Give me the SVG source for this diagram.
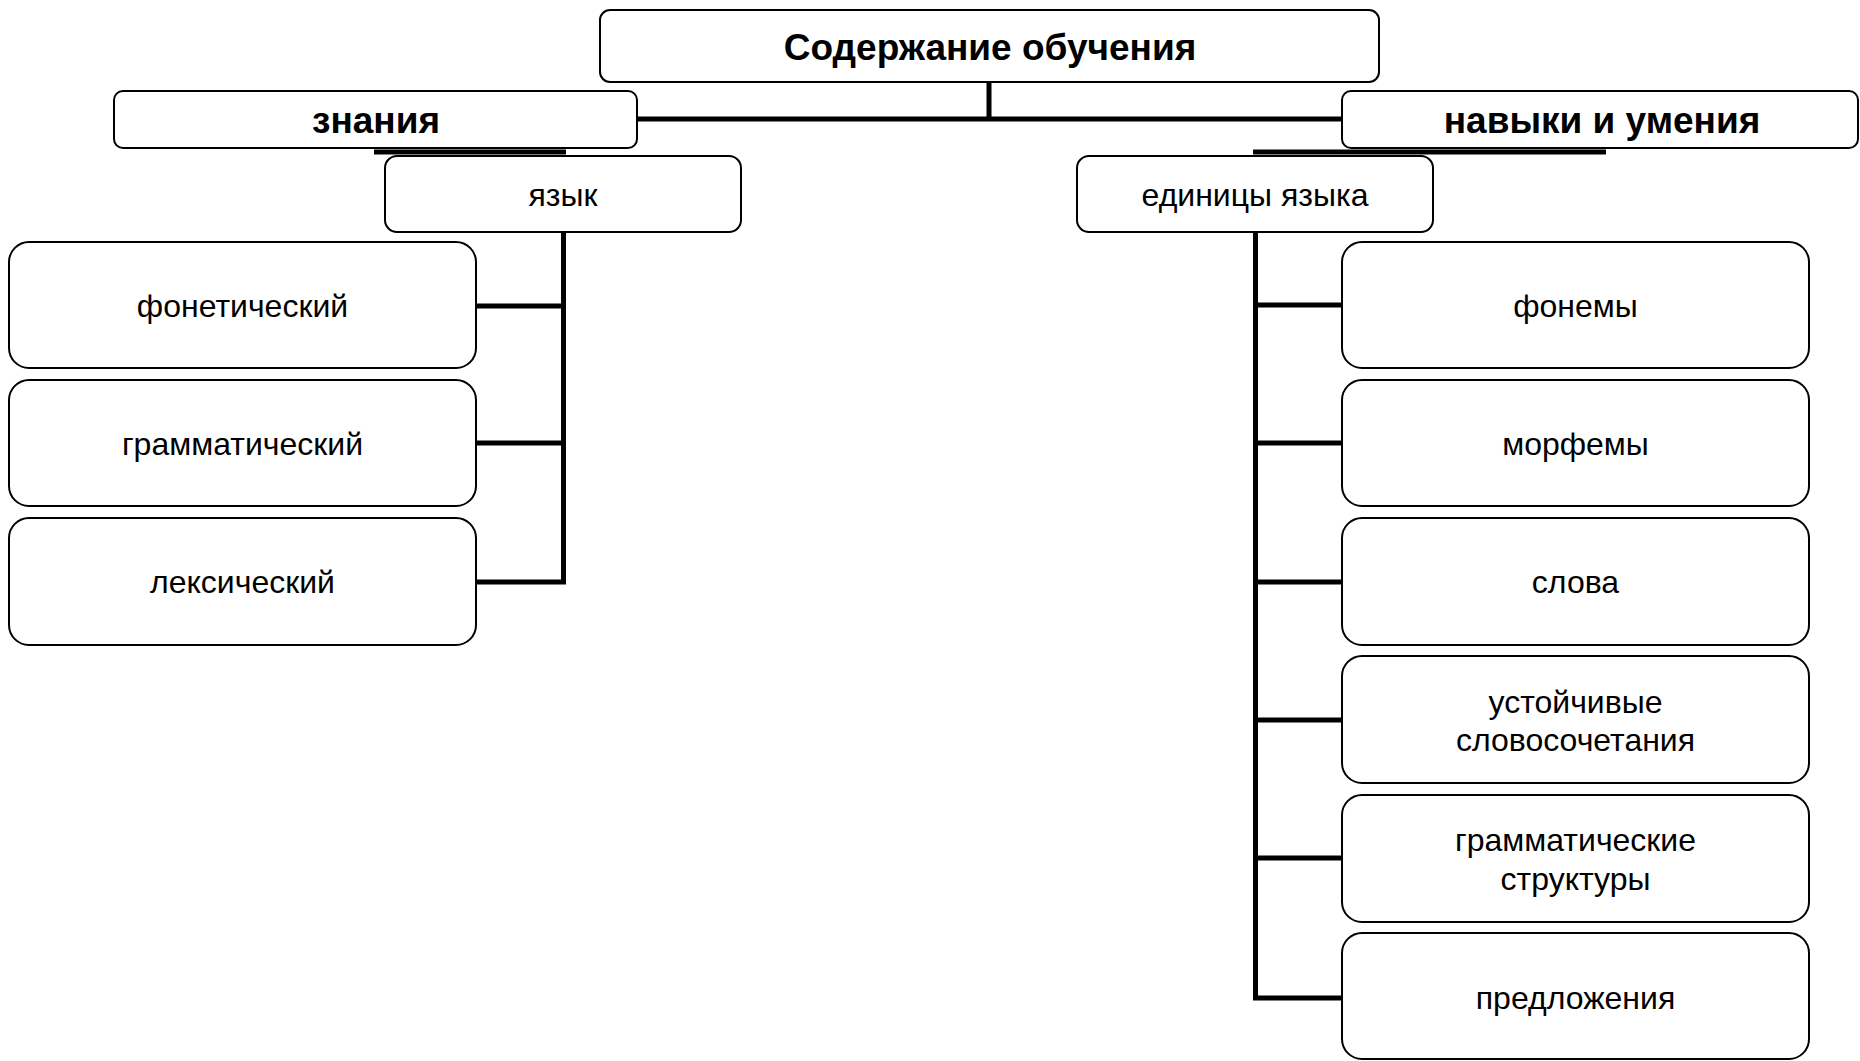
<svg xmlns="http://www.w3.org/2000/svg" width="1860" height="1061" viewBox="0 0 1860 1061">
<style>
.box{fill:#fff;stroke:#000;stroke-width:2}
.t{font-family:"Liberation Sans",Arial,sans-serif;font-size:32px;fill:#000;text-anchor:middle;dominant-baseline:central}
.b{font-weight:bold;font-size:37px}
.c{fill:none;stroke:#000;stroke-width:5}
</style>
<rect width="1860" height="1061" fill="#fff"/>
<g id="connectors">
<path class="c" d="M989 82 V119 M637 119 H1342"/>
<path class="c" d="M374 152 H566"/>
<path class="c" d="M1253 152 H1606"/>
<path class="c" d="M563.5 232 V582 H476 M563.5 306 H476 M563.5 443 H476"/>
<path class="c" d="M1255.5 232 V998 H1342 M1255.5 305 H1342 M1255.5 443 H1342 M1255.5 582 H1342 M1255.5 720 H1342 M1255.5 858 H1342"/>
</g>
<g id="root"><rect class="box" x="600" y="10" width="779" height="72" rx="10"/><text class="t b" x="990" y="47">Содержание обучения</text></g>
<g id="znaniya"><rect class="box" x="114" y="91" width="523" height="57" rx="9"/><text class="t b" x="376" y="120">знания</text></g>
<g id="navyki"><rect class="box" x="1342" y="91" width="516" height="57" rx="9"/><text class="t b" x="1602" y="120">навыки и умения</text></g>
<g id="yazyk"><rect class="box" x="385" y="156" width="356" height="76" rx="12"/><text class="t" x="563" y="195">язык</text></g>
<g id="edinicy"><rect class="box" x="1077" y="156" width="356" height="76" rx="12"/><text class="t" x="1255" y="195">единицы языка</text></g>
<g id="fonet"><rect class="box" x="9" y="242" width="467" height="126" rx="20"/><text class="t" x="242.5" y="306">фонетический</text></g>
<g id="gramm"><rect class="box" x="9" y="380" width="467" height="126" rx="20"/><text class="t" x="242.5" y="444">грамматический</text></g>
<g id="leks"><rect class="box" x="9" y="518" width="467" height="127" rx="20"/><text class="t" x="242.5" y="582">лексический</text></g>
<g id="fonemy"><rect class="box" x="1342" y="242" width="467" height="126" rx="20"/><text class="t" x="1575.5" y="306">фонемы</text></g>
<g id="morfemy"><rect class="box" x="1342" y="380" width="467" height="126" rx="20"/><text class="t" x="1575.5" y="444">морфемы</text></g>
<g id="slova"><rect class="box" x="1342" y="518" width="467" height="127" rx="20"/><text class="t" x="1575.5" y="582">слова</text></g>
<g id="ustoich"><rect class="box" x="1342" y="656" width="467" height="127" rx="20"/><text class="t" x="1575.5" y="702">устойчивые</text><text class="t" x="1575.5" y="740">словосочетания</text></g>
<g id="grammstr"><rect class="box" x="1342" y="795" width="467" height="127" rx="20"/><text class="t" x="1575.5" y="840">грамматические</text><text class="t" x="1575.5" y="879">структуры</text></g>
<g id="predl"><rect class="box" x="1342" y="933" width="467" height="126" rx="20"/><text class="t" x="1575.5" y="998">предложения</text></g>
</svg>
